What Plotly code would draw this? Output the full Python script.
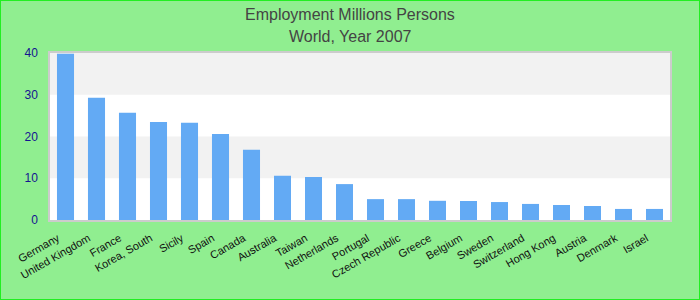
import plotly.graph_objects as go

countries = ["Germany", "United Kingdom", "France", "Korea, South", "Sicily", "Spain",
             "Canada", "Australia", "Taiwan", "Netherlands", "Portugal", "Czech Republic",
             "Greece", "Belgium", "Sweden", "Switzerland", "Hong Kong", "Austria",
             "Denmark", "Israel"]
employment = [39.8, 29.3, 25.7, 23.5, 23.3, 20.6, 16.8, 10.6, 10.3, 8.6, 5.0, 5.0,
              4.6, 4.55, 4.3, 3.85, 3.6, 3.35, 2.65, 2.65]
y_ticks = [0, 10, 20, 30, 40]
title_lines = ["Employment Millions Persons", "World, Year 2007"]

fig = go.Figure(go.Bar(x=countries, y=employment, marker_color="#63AAF4",
                       marker_line_width=0, hoverinfo="skip"))

L, R, T, B = 50, 30, 53, 80
pw, ph = 700 - L - R, 300 - T - B

shapes = []
for lo in [10, 30]:
    shapes.append(dict(type="rect", xref="paper", yref="y", x0=0, x1=1, y0=lo, y1=lo + 10,
                       fillcolor="#F2F2F2", line_width=0, layer="below"))
# outer page border
shapes.append(dict(type="rect", xref="paper", yref="paper",
                   x0=(0 - L) / pw, x1=(700 - L) / pw,
                   y0=-(B) / ph, y1=(300 - B) / ph,
                   line=dict(color="#22EE22", width=2), fillcolor="rgba(0,0,0,0)"))

annotations = []
for text, py in zip(title_lines, [14, 36]):
    annotations.append(dict(text=text, xref="paper", yref="paper",
                            x=(350 - L) / pw, y=(300 - B - py) / ph,
                            xanchor="center", yanchor="middle", showarrow=False,
                            font=dict(size=16, color="#444444")))

fig.update_layout(
    width=700, height=300,
    margin=dict(l=L, r=R, t=T, b=B),
    paper_bgcolor="#90EE90",
    plot_bgcolor="#FFFFFF",
    bargap=0.45,
    showlegend=False,
    shapes=shapes,
    annotations=annotations,
    font=dict(family="Liberation Sans, Arial, sans-serif"),
    xaxis=dict(tickangle=-30, tickfont=dict(size=11, color="#111111"),
               showline=True, linecolor="#CCCCCC", linewidth=1.5, mirror=True,
               showgrid=False, ticks="", ticklabelstandoff=6, ticklabelshift=-8),
    yaxis=dict(range=[0, 40], tickvals=y_ticks, tickfont=dict(size=12, color="#141490"),
               showline=True, linecolor="#CCCCCC", linewidth=1.5, mirror=True,
               showgrid=False, zeroline=False, ticks="", ticklabelstandoff=8),
)

fig.write_html("out.html")
